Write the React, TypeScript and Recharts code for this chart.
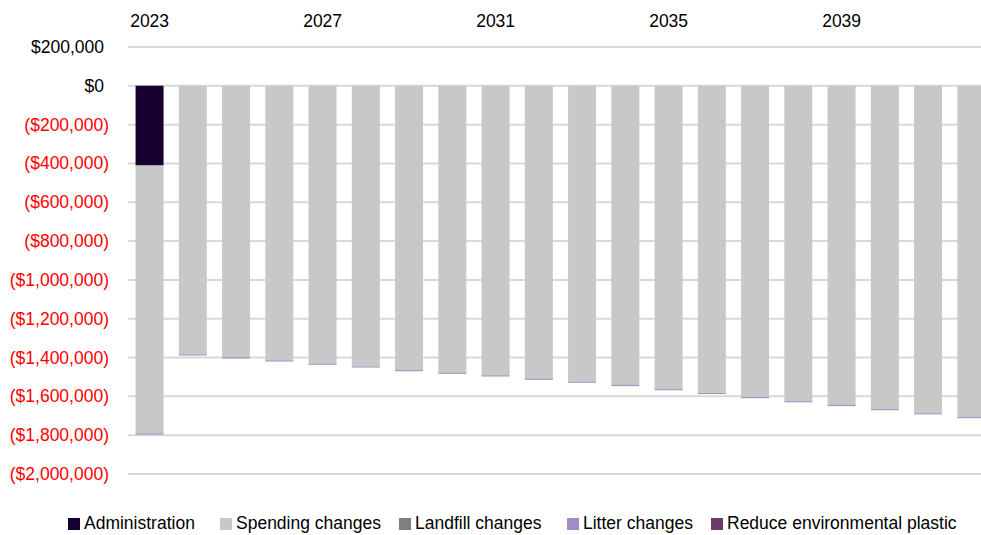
import React from "react";
import { BarChart, Bar, XAxis, YAxis, CartesianGrid } from "recharts";

const years = [
  "2023", "2024", "2025", "2026", "2027", "2028", "2029", "2030", "2031", "2032",
  "2033", "2034", "2035", "2036", "2037", "2038", "2039", "2040", "2041", "2042",
];
const administration = [-410000, 0, 0, 0, 0, 0, 0, 0, 0, 0, 0, 0, 0, 0, 0, 0, 0, 0, 0, 0];
const spendingChanges = [
  -1380000, -1383000, -1398000, -1414000, -1431000, -1445000, -1464000, -1478000, -1491000, -1509000,
  -1524000, -1541000, -1562000, -1582000, -1603000, -1624000, -1644000, -1665000, -1686000, -1706000,
];
const landfillChanges = [-1000, -1000, -1000, -1000, -1000, -1000, -1000, -1000, -1000, -1000, -1000, -1000, -1000, -1000, -1000, -1000, -1000, -1000, -1000, -1000];
const litterChanges = [-4000, -4000, -4000, -4000, -4000, -4000, -4000, -4000, -4000, -4000, -4000, -4000, -4000, -4000, -4000, -4000, -4000, -4000, -4000, -4000];
const reducePlastic = [-1000, -1000, -1000, -1000, -1000, -1000, -1000, -1000, -1000, -1000, -1000, -1000, -1000, -1000, -1000, -1000, -1000, -1000, -1000, -1000];
const yTicks = [200000, 0, -200000, -400000, -600000, -800000, -1000000, -1200000, -1400000, -1600000, -1800000, -2000000];

const series = [
  { key: "admin", name: "Administration", color: "#170030", values: administration },
  { key: "spending", name: "Spending changes", color: "#c8c8c8", values: spendingChanges },
  { key: "landfill", name: "Landfill changes", color: "#808080", values: landfillChanges },
  { key: "litter", name: "Litter changes", color: "#a08cc6", values: litterChanges },
  { key: "reduce", name: "Reduce environmental plastic", color: "#6e3a6a", values: reducePlastic },
];
const legendLeft = [68, 220, 399, 567, 711];

const data = years.map((y, i) => {
  const row: Record<string, number | string> = { year: y };
  series.forEach((s) => {
    row[s.key] = s.values[i];
  });
  return row;
});

const FONT = "'Liberation Sans', Arial, sans-serif";

const fmt = (v: number) => {
  const s = "$" + Math.abs(v).toLocaleString("en-US");
  return v < 0 ? "(" + s + ")" : s;
};

const YTick = (props: any) => {
  const { x, y, payload } = props;
  const v = payload.value as number;
  return (
    <text x={v < 0 ? x : x - 5} y={y} dy={6} textAnchor="end" fontFamily={FONT} fontSize={17.5} fill={v < 0 ? "#ff0000" : "#000000"}>
      {fmt(v)}
    </text>
  );
};

const XTick = (props: any) => {
  const { x, payload } = props;
  return (
    <text x={x} y={27} textAnchor="middle" fontFamily={FONT} fontSize={17.5} fill="#000000">
      {payload.value}
    </text>
  );
};

export default function App() {
  return (
    <div style={{ position: "absolute", left: 0, top: 0, width: 981, height: 535, overflow: "hidden" }}>
      <BarChart
        width={981}
        height={535}
        data={data}
        margin={{ top: 17, right: -12, bottom: 61, left: 0 }}
        barCategoryGap="17.5%"
        stackOffset="sign"
      >
        <CartesianGrid vertical={false} stroke="#d9d9d9" strokeWidth={2} />
        <XAxis
          dataKey="year"
          orientation="top"
          height={30}
          axisLine={false}
          tickLine={false}
          interval={3}
          tick={<XTick />}
        />
        <YAxis
          type="number"
          domain={[-2000000, 200000]}
          ticks={yTicks}
          interval={0}
          width={128}
          axisLine={false}
          tickLine={false}
          tickSize={0}
          tickMargin={19}
          tick={<YTick />}
        />
        {series.map((s) => (
          <Bar key={s.key} dataKey={s.key} name={s.name} stackId="a" fill={s.color} isAnimationActive={false} />
        ))}
      </BarChart>
      {series.map((s, i) => (
        <div
          key={s.key}
          style={{
            position: "absolute",
            left: legendLeft[i],
            top: 513,
            display: "flex",
            alignItems: "center",
            fontFamily: FONT,
            fontSize: 17.5,
            color: "#000",
            whiteSpace: "nowrap",
          }}
        >
          <span style={{ width: 12, height: 12, background: s.color, display: "inline-block", marginRight: 4 }} />
          <span>{s.name}</span>
        </div>
      ))}
    </div>
  );
}
